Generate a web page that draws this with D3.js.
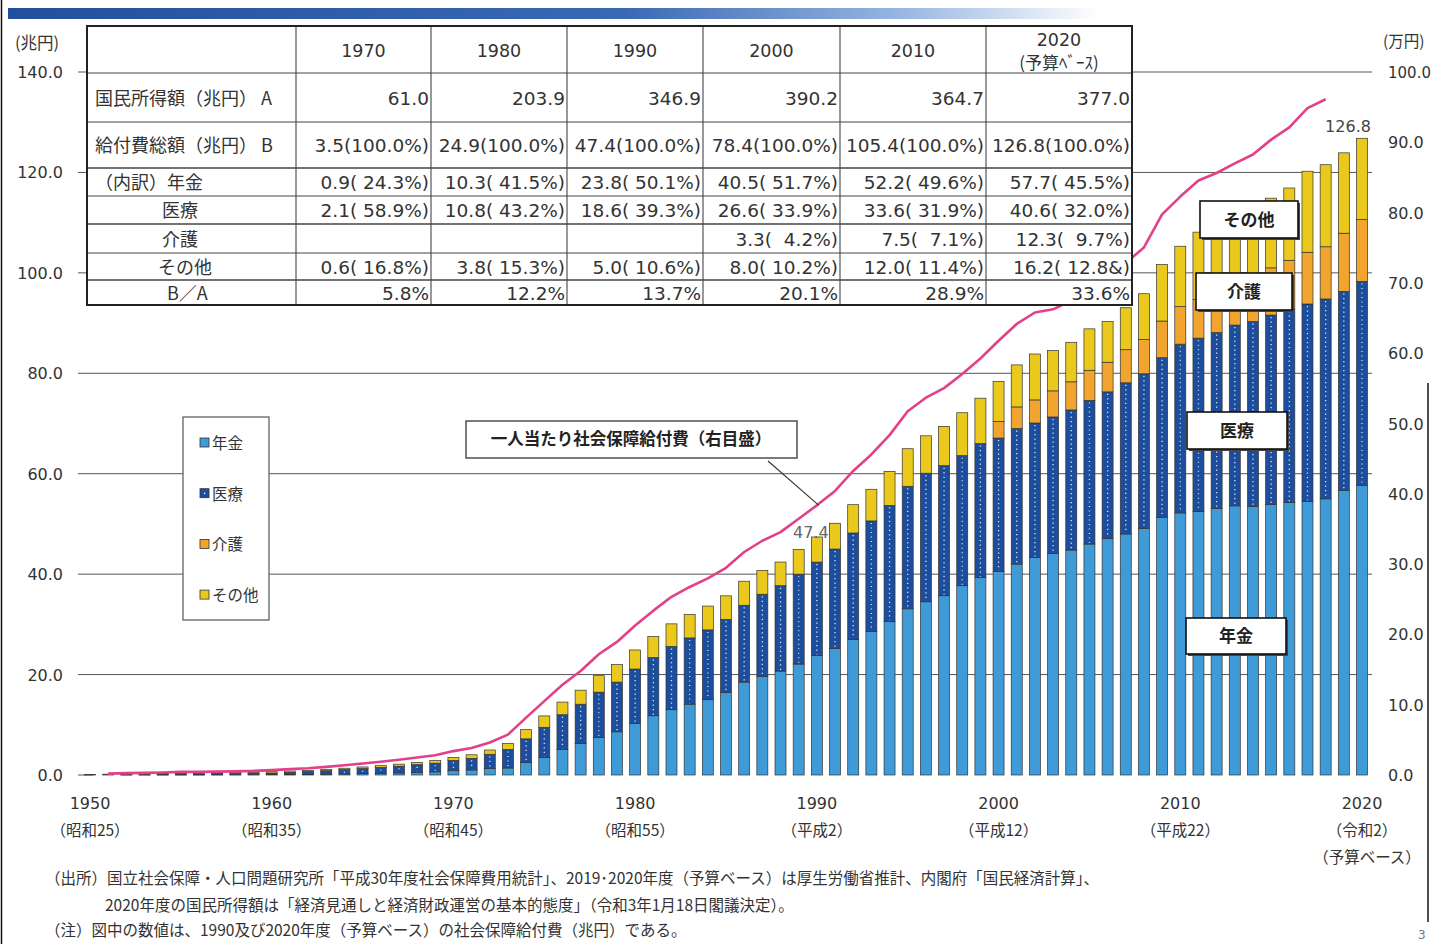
<!DOCTYPE html>
<html><head><meta charset="utf-8">
<script src="https://cdn.jsdelivr.net/npm/d3@7"></script>
<style>
html,body{margin:0;padding:0;background:#fff;}
svg text{white-space:pre;}
</style></head>
<body>
<script>
// ---------------- DATA ----------------
const years = [1950,1951,1952,1953,1954,1955,1956,1957,1958,1959,
  1960,1961,1962,1963,1964,1965,1966,1967,1968,1969,
  1970,1971,1972,1973,1974,1975,1976,1977,1978,1979,
  1980,1981,1982,1983,1984,1985,1986,1987,1988,1989,
  1990,1991,1992,1993,1994,1995,1996,1997,1998,1999,
  2000,2001,2002,2003,2004,2005,2006,2007,2008,2009,
  2010,2011,2012,2013,2014,2015,2016,2017,2018,2019,2020];
// 年金 (兆円)
const pension = [0.00,0.00,0.01,0.01,0.01,0.02,0.02,0.03,0.04,0.06,
  0.10,0.13,0.16,0.19,0.23,0.28,0.34,0.41,0.50,0.62,
  0.86,1.01,1.27,1.40,2.50,3.50,5.10,6.30,7.50,8.60,
  10.3,11.8,13.0,14.1,15.0,16.4,18.5,19.6,20.7,22.1,
  23.8,25.2,27.0,28.6,30.6,33.1,34.5,35.7,37.7,39.3,
  40.5,42.0,43.3,44.1,44.8,46.0,47.1,48.0,49.1,51.3,
  52.2,52.5,53.1,53.6,53.5,53.9,54.3,54.5,55.0,56.7,57.7];
// 医療 (兆円)
const medical = [0.07,0.09,0.12,0.14,0.17,0.19,0.20,0.23,0.26,0.28,
  0.29,0.40,0.51,0.66,0.83,0.99,1.17,1.35,1.55,1.74,
  2.06,2.31,2.86,3.70,4.70,6.00,6.90,7.80,9.00,9.90,
  10.8,11.6,12.6,13.2,13.9,14.6,15.3,16.4,17.0,17.9,
  18.6,19.8,21.2,22.0,23.1,24.4,25.6,25.9,25.9,26.7,
  26.6,27.0,26.8,27.2,27.9,28.6,29.2,30.1,30.8,31.8,
  33.6,34.5,35.0,36.0,36.8,37.7,38.5,39.3,39.8,39.6,40.6];
// 介護 (兆円)
const care = [0,0,0,0,0,0,0,0,0,0,
  0,0,0,0,0,0,0,0,0,0,
  0,0,0,0,0,0,0,0,0,0,
  0,0,0,0,0,0,0,0,0,0,
  0,0,0,0,0,0,0,0,0,0,
  3.3,4.3,4.6,5.2,5.6,6.0,5.9,6.6,6.8,7.3,
  7.5,7.7,8.3,8.7,9.1,9.4,9.7,10.3,10.4,11.6,12.3];
// その他 (兆円)
const other = [0.06,0.07,0.09,0.11,0.13,0.18,0.18,0.18,0.18,0.20,
  0.27,0.26,0.25,0.26,0.29,0.33,0.36,0.40,0.46,0.52,
  0.59,0.71,0.85,1.16,1.83,2.27,2.52,2.79,3.28,3.48,
  3.8,4.16,4.5,4.67,4.74,4.68,4.79,4.73,4.71,4.92,
  5.0,5.13,5.63,6.3,6.77,7.48,7.45,7.82,8.54,9.04,
  8.0,8.37,9.14,8.03,7.87,8.25,8.13,8.35,9.14,11.27,
  12.0,13.41,12.83,12.54,12.77,13.87,14.4,16.14,16.34,16.0,16.2];
// 一人当たり社会保障給付費 (万円, 右目盛)
const perCapYears = [1951,1952,1953,1954,1955,1956,1957,1958,1959,
  1960,1961,1962,1963,1964,1965,1966,1967,1968,1969,
  1970,1971,1972,1973,1974,1975,1976,1977,1978,1979,
  1980,1981,1982,1983,1984,1985,1986,1987,1988,1989,
  1990,1991,1992,1993,1994,1995,1996,1997,1998,1999,
  2000,2001,2002,2003,2004,2005,2006,2007,2008,2009,
  2010,2011,2012,2013,2014,2015,2016,2017,2018];
const perCapita = [0.19,0.26,0.30,0.35,0.44,0.44,0.48,0.52,0.58,
  0.70,0.84,0.97,1.16,1.39,1.63,1.89,2.16,2.48,2.80,
  3.40,3.83,4.63,5.74,8.16,10.51,12.84,14.79,17.17,18.93,
  21.27,23.38,25.35,26.75,27.96,29.47,31.72,33.32,34.55,36.46,
  38.36,40.41,43.25,45.60,48.35,51.75,53.67,55.03,57.04,59.24,
  61.77,64.16,65.79,66.24,67.48,69.54,70.70,72.82,75.05,79.74,
  82.28,84.57,85.63,87.00,88.27,90.38,92.12,94.87,96.12];

const seriesKeys = ["pension","medical","care","other"];
const seriesNames = ["年金","医療","介護","その他"];
const leftTicks = [0,20,40,60,80,100,120,140];
const rightTicks = [0,10,20,30,40,50,60,70,80,90,100];
const xTickYears = [1950,1960,1970,1980,1990,2000,2010,2020];
const xEraLabels = ["（昭和25）","（昭和35）","（昭和45）","（昭和55）","（平成2）","（平成12）","（平成22）","（令和2）"];

// table
const tableYears = ["1970","1980","1990","2000","2010","2020"];
const rowLabels = ["国民所得額（兆円） A","給付費総額（兆円） B","（内訳）年金","医療","介護","その他","B／A"];
const incomeA = ["61.0","203.9","346.9","390.2","364.7","377.0"];
const benefitB = ["3.5(100.0%)","24.9(100.0%)","47.4(100.0%)","78.4(100.0%)","105.4(100.0%)","126.8(100.0%)"];
const tPension = ["0.9( 24.3%)","10.3( 41.5%)","23.8( 50.1%)","40.5( 51.7%)","52.2( 49.6%)","57.7( 45.5%)"];
const tMedical = ["2.1( 58.9%)","10.8( 43.2%)","18.6( 39.3%)","26.6( 33.9%)","33.6( 31.9%)","40.6( 32.0%)"];
const tCare = ["","","","3.3(  4.2%)","7.5(  7.1%)","12.3(  9.7%)"];
const tOther = ["0.6( 16.8%)","3.8( 15.3%)","5.0( 10.6%)","8.0( 10.2%)","12.0( 11.4%)","16.2( 12.8&)"];
const ratioBA = ["5.8%","12.2%","13.7%","20.1%","28.9%","33.6%"];

const footnotes = [
  "（出所）国立社会保障・人口問題研究所「平成30年度社会保障費用統計」、2019･2020年度（予算ベース）は厚生労働省推計、内閣府「国民経済計算」、",
  "2020年度の国民所得額は「経済見通しと経済財政運営の基本的態度」（令和3年1月18日閣議決定）。",
  "（注）図中の数値は、1990及び2020年度（予算ベース）の社会保障給付費（兆円）である。"
];

// ---------------- LAYOUT / STYLE ----------------
const W = 1431, H = 944;
const colors = {pension:"#3f9bd8", medical:"#1c4e9d", care:"#f1a42e", other:"#ebc91c"};
const lineColor = "#e3408a";
const JP = "'Noto Sans CJK JP', sans-serif";
const NUM = "'DejaVu Sans', 'Noto Sans CJK JP', sans-serif";
const txt = "#333";

const svg = d3.select("body").append("svg").attr("width", W).attr("height", H)
  .style("font-family", JP);
svg.append("rect").attr("width", W).attr("height", H).attr("fill", "#fff");

const x = d3.scalePoint().domain(years).range([90, 1362]);
const yL = d3.scaleLinear().domain([0, 140]).range([775, 72]);
const yR = d3.scaleLinear().domain([0, 100]).range([775, 72]);
const barW = 11;

// top decorative gradient bar
const defs = svg.append("defs");
const grad = defs.append("linearGradient").attr("id", "topbar");
[[0,"#22509e"],[0.55,"#3a69b4"],[0.8,"#9ab8e2"],[0.97,"#ffffff"]].forEach(s =>
  grad.append("stop").attr("offset", s[0]).attr("stop-color", s[1]));
svg.append("rect").attr("x", 8).attr("y", 8).attr("width", 1125).attr("height", 11).attr("fill", "url(#topbar)");

// page frame lines
svg.append("line").attr("x1", 1.5).attr("x2", 1.5).attr("y1", 0).attr("y2", H).attr("stroke", "#111").attr("stroke-width", 1.5);
svg.append("line").attr("x1", 1428).attr("x2", 1428).attr("y1", 383).attr("y2", 922).attr("stroke", "#111").attr("stroke-width", 1.5);
svg.append("text").attr("x", 1418).attr("y", 939).attr("font-family", NUM).attr("font-size", 12).attr("fill", "#777").text("3");

// gridlines
const grid = svg.append("g");
grid.selectAll("line").data(leftTicks).join("line")
  .attr("x1", 78).attr("x2", d => d === 0 ? 93 : 1372)
  .attr("y1", d => yL(d)).attr("y2", d => yL(d))
  .attr("stroke", "#555").attr("stroke-width", 1);

// left axis labels
svg.append("g").selectAll("text").data(leftTicks).join("text")
  .attr("x", 63).attr("y", d => yL(d) + 6).attr("text-anchor", "end")
  .attr("font-family", NUM).attr("font-size", 16).attr("fill", txt)
  .text(d => d.toFixed(1));
svg.append("text").attr("x", 15).attr("y", 49).attr("font-size", 16.5).attr("fill", txt).text("(兆円)");

// right axis labels
svg.append("g").selectAll("text").data(rightTicks).join("text")
  .attr("x", 1388).attr("y", d => yR(d) + 6).attr("text-anchor", "start")
  .attr("font-family", NUM).attr("font-size", d => d === 100 ? 15 : 16).attr("fill", txt)
  .text(d => d.toFixed(1));
svg.append("text").attr("x", 1383).attr("y", 47).attr("font-size", 15.5).attr("fill", txt).text("(万円)");

// x axis labels
svg.append("g").selectAll("text").data(xTickYears).join("text")
  .attr("x", d => x(d)).attr("y", 809).attr("text-anchor", "middle")
  .attr("font-family", NUM).attr("font-size", 16).attr("fill", txt).text(d => d);
svg.append("g").selectAll("text").data(xTickYears).join("text")
  .attr("x", d => x(d)).attr("y", 836).attr("text-anchor", "middle")
  .attr("font-size", 15.5).attr("fill", txt).text((d, i) => xEraLabels[i]);
svg.append("text").attr("x", x(2020) + 5).attr("y", 863).attr("text-anchor", "middle")
  .attr("font-size", 15.5).attr("fill", txt).text("（予算ベース）");

// stacked bars
const rows = years.map((yr, i) => ({year: yr, pension: pension[i], medical: medical[i], care: care[i], other: other[i]}));
const stacked = d3.stack().keys(seriesKeys)(rows);
const barG = svg.append("g");
stacked.forEach(layer => {
  const key = layer.key;
  barG.append("g").selectAll("rect").data(layer.filter(d => d[1] - d[0] > 0)).join("rect")
    .attr("x", d => x(d.data.year) - barW / 2)
    .attr("width", barW)
    .attr("y", d => yL(d[1]))
    .attr("height", d => yL(d[0]) - yL(d[1]))
    .attr("fill", colors[key])
    .attr("stroke", "#333").attr("stroke-width", 0.7);
  if (key === "medical") {
    barG.append("g").selectAll("line").data(layer.filter(d => yL(d[0]) - yL(d[1]) > 4)).join("line")
      .attr("x1", d => x(d.data.year)).attr("x2", d => x(d.data.year))
      .attr("y1", d => yL(d[1]) + 2).attr("y2", d => yL(d[0]) - 1)
      .attr("stroke", "#fff").attr("stroke-width", 1.3).attr("stroke-dasharray", "1.2 3.3").attr("opacity", 0.85);
  }
});

// per-capita line
const perRows = perCapYears.map((yr, i) => ({year: yr, v: perCapita[i]}));
svg.append("path").datum(perRows)
  .attr("d", d3.line().x(d => x(d.year)).y(d => yR(d.v)))
  .attr("fill", "none").attr("stroke", lineColor).attr("stroke-width", 2.6).attr("stroke-linejoin", "round");

// value labels (1990, 2020 totals)
svg.append("text").attr("x", x(1990) - 6).attr("y", yL(47.4) + 1).attr("text-anchor", "middle")
  .attr("font-family", NUM).attr("font-size", 16).attr("fill", "#666").text("47.4");
svg.append("text").attr("x", x(2020) - 14).attr("y", yL(126.8) - 6).attr("text-anchor", "middle")
  .attr("font-family", NUM).attr("font-size", 16).attr("fill", "#444").text("126.8");

// ---------------- TABLE ----------------
const colX = [87, 296, 431, 567, 703, 840, 986, 1132];
const rowY = [26, 73, 122, 168, 196, 224, 253, 280, 305];
const tbl = svg.append("g");
tbl.append("rect").attr("x", colX[0]).attr("y", rowY[0]).attr("width", colX[7] - colX[0]).attr("height", rowY[8] - rowY[0])
  .attr("fill", "#fff");
rowY.slice(1, -1).forEach((yy, i) => tbl.append("line").attr("x1", colX[0]).attr("x2", colX[7]).attr("y1", yy).attr("y2", yy)
  .attr("stroke", "#444").attr("stroke-width", (i === 2 || i === 4 || i === 6) ? 1.6 : 1.1));
colX.slice(1, -1).forEach(xx => tbl.append("line").attr("x1", xx).attr("x2", xx).attr("y1", rowY[0]).attr("y2", rowY[8])
  .attr("stroke", "#444").attr("stroke-width", 1.1));
tbl.append("rect").attr("x", colX[0]).attr("y", rowY[0]).attr("width", colX[7] - colX[0]).attr("height", rowY[8] - rowY[0])
  .attr("fill", "none").attr("stroke", "#222").attr("stroke-width", 2);

tableYears.forEach((yr, i) => {
  const cx = (colX[i + 1] + colX[i + 2]) / 2;
  if (i < 5) {
    tbl.append("text").attr("x", cx).attr("y", 57).attr("text-anchor", "middle")
      .attr("font-family", NUM).attr("font-size", 17.5).attr("fill", txt).text(yr);
  } else {
    tbl.append("text").attr("x", cx).attr("y", 46).attr("text-anchor", "middle")
      .attr("font-family", NUM).attr("font-size", 17.5).attr("fill", txt).text(yr);
    tbl.append("text").attr("x", cx).attr("y", 69).attr("text-anchor", "middle")
      .attr("font-size", 17).attr("fill", txt).text("(予算ﾍﾞｰｽ)");
  }
});
const labelX = [95, 95, 95, 162, 162, 158, 167];
rowLabels.forEach((lab, r) => {
  tbl.append("text").attr("x", labelX[r]).attr("y", (rowY[r + 1] + rowY[r + 2]) / 2 + 7)
    .attr("font-size", 18).attr("fill", txt).text(lab);
});
const tableRows = [incomeA, benefitB, tPension, tMedical, tCare, tOther, ratioBA];
tableRows.forEach((vals, r) => {
  vals.forEach((v, c) => {
    tbl.append("text").attr("x", colX[c + 2] - 2).attr("y", (rowY[r + 1] + rowY[r + 2]) / 2 + 7)
      .attr("text-anchor", "end").attr("font-family", NUM).attr("font-size", 18.5).attr("fill", txt).text(v);
  });
});

// ---------------- LEGEND ----------------
const lg = svg.append("g");
lg.append("rect").attr("x", 183).attr("y", 417).attr("width", 86).attr("height", 203)
  .attr("fill", "#fff").attr("stroke", "#555").attr("stroke-width", 1.2);
seriesKeys.forEach((k, i) => {
  const cy = 443 + i * 50.7;
  lg.append("rect").attr("x", 200).attr("y", cy - 5).attr("width", 9).attr("height", 9)
    .attr("fill", colors[k]).attr("stroke", "#333").attr("stroke-width", 0.8);
  if (k === "medical") lg.append("rect").attr("x", 204).attr("y", cy - 1).attr("width", 1.3).attr("height", 1.3).attr("fill", "#fff");
  lg.append("text").attr("x", 212).attr("y", cy + 6).attr("font-size", 15.5).attr("fill", txt).text(seriesNames[i]);
});

// ---------------- ANNOTATIONS ----------------
svg.append("line").attr("x1", 768).attr("y1", 461).attr("x2", x(1990) + 2).attr("y2", yR(perCapita[perCapYears.indexOf(1990)]))
  .attr("stroke", "#333").attr("stroke-width", 1.1);
svg.append("rect").attr("x", 466).attr("y", 421).attr("width", 331).attr("height", 37)
  .attr("fill", "#fff").attr("stroke", "#444").attr("stroke-width", 1.4);
svg.append("text").attr("x", 631).attr("y", 445).attr("text-anchor", "middle")
  .attr("font-size", 16.5).attr("font-weight", "bold").attr("fill", "#222").text("一人当たり社会保障給付費（右目盛）");

const catBoxes = [
  {name: "その他", x: 1200, y: 201, w: 98, h: 37},
  {name: "介護", x: 1196, y: 273, w: 96, h: 37},
  {name: "医療", x: 1187, y: 412, w: 100, h: 37},
  {name: "年金", x: 1186, y: 618, w: 100, h: 36}
];
catBoxes.forEach(b => {
  svg.append("rect").attr("x", b.x + 2).attr("y", b.y + 2).attr("width", b.w).attr("height", b.h).attr("fill", "#444");
  svg.append("rect").attr("x", b.x).attr("y", b.y).attr("width", b.w).attr("height", b.h)
    .attr("fill", "#fff").attr("stroke", "#111").attr("stroke-width", 1.6);
  svg.append("text").attr("x", b.x + b.w / 2).attr("y", b.y + b.h / 2 + 6).attr("text-anchor", "middle")
    .attr("font-size", 17).attr("font-weight", "bold").attr("fill", "#222").text(b.name);
});

// ---------------- FOOTNOTES ----------------
const fnPos = [[45, 884], [105, 911], [45, 936]];
footnotes.forEach((t, i) => {
  svg.append("text").attr("x", fnPos[i][0]).attr("y", fnPos[i][1]).attr("font-size", 15.5).attr("fill", "#333").text(t);
});
</script>
</body></html>
